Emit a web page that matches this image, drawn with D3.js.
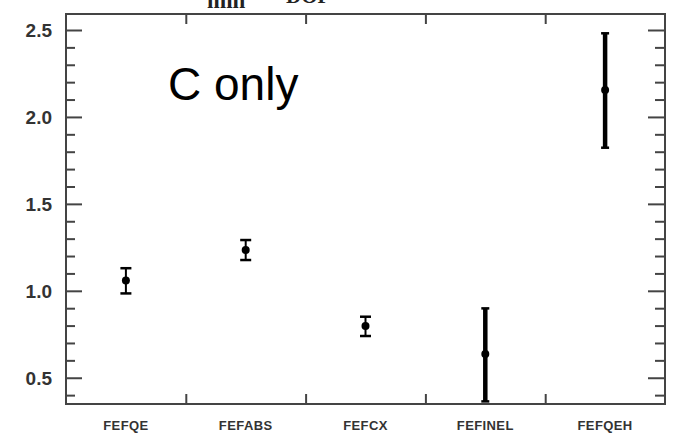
<!DOCTYPE html>
<html>
<head>
<meta charset="utf-8">
<script src="https://cdn.jsdelivr.net/npm/d3@7"></script>
<style>
  body { margin: 0; background: #fff; }
  svg { display: block; }
</style>
</head>
<body>
<svg id="chart"></svg>
<script>
// categories and values
const categories = ['FEFQE', 'FEFABS', 'FEFCX', 'FEFINEL', 'FEFQEH']
const centers = [1.06, 1.235, 0.797, 0.636, 2.155]
const uppers = [1.13, 1.292, 0.851, 0.899, 2.481]
const lowers = [0.985, 1.177, 0.74, 0.364, 1.823]
const majorTicks = [0.5, 1.0, 1.5, 2.0, 2.5]
const minorTicks = [0.4, 0.6, 0.7, 0.8, 0.9, 1.1, 1.2, 1.3, 1.4, 1.6, 1.7, 1.8, 1.9, 2.1, 2.2, 2.3, 2.4]

const WIDTH = 679
const HEIGHT = 445
// plot frame
const LEFT = 66
const RIGHT = 665
const TOP = 14
const BOTTOM = 404
const AXIS_COLOR = '#444'

const data = categories.map((c, i) => ({ name: c, v: centers[i], hi: uppers[i], lo: lowers[i] }))

const x = d3.scaleBand().domain(categories).range([LEFT, RIGHT])
const y = d3.scaleLinear().domain([0.349, 2.592]).range([BOTTOM, TOP])

const svg = d3.select('#chart').attr('width', WIDTH).attr('height', HEIGHT)

// cut-off title at the very top
const drawTitle = () => (node) => {
  node.append('text')
    .attr('x', 207).attr('y', 8)
    .style('font-family', '"Liberation Serif", "DejaVu Serif", serif')
    .style('font-weight', 'bold')
    .style('font-size', '23px')
    .style('fill', '#222')
    .text('min')
  node.append('text')
    .attr('x', 286).attr('y', 3)
    .style('font-family', '"Liberation Serif", "DejaVu Serif", serif')
    .style('font-weight', 'bold')
    .style('font-size', '21px')
    .style('fill', '#222')
    .text('DOF')
}

const drawFrame = () => (node) => {
  node.append('rect')
    .attr('x', LEFT).attr('y', TOP)
    .attr('width', RIGHT - LEFT).attr('height', BOTTOM - TOP)
    .attr('fill', 'none')
    .attr('stroke', AXIS_COLOR)
    .attr('stroke-width', 2)
}

const drawYAxes = () => (node) => {
  // left: ticks point inward
  const left = d3.axisRight(y).tickValues(majorTicks).tickSize(16).tickFormat('')
  const leftMinor = d3.axisRight(y).tickValues(minorTicks).tickSize(9).tickFormat('')
  const right = d3.axisLeft(y).tickValues(majorTicks).tickSize(17).tickFormat('')
  const rightMinor = d3.axisLeft(y).tickValues(minorTicks).tickSize(10).tickFormat('')

  const style = (g) => {
    g.select('.domain').remove()
    g.selectAll('.tick line').attr('stroke', AXIS_COLOR).attr('stroke-width', 2)
  }
  node.append('g').attr('transform', `translate(${LEFT},0)`).call(left).call(style)
  node.append('g').attr('transform', `translate(${LEFT},0)`).call(leftMinor).call(style)
  node.append('g').attr('transform', `translate(${RIGHT},0)`).call(right).call(style)
  node.append('g').attr('transform', `translate(${RIGHT},0)`).call(rightMinor).call(style)

  // tick labels
  node.append('g')
    .selectAll('text')
    .data(majorTicks)
    .join('text')
    .attr('x', 52)
    .attr('y', (d) => y(d))
    .attr('dy', '0.36em')
    .attr('text-anchor', 'end')
    .style('font-family', '"Liberation Sans", Arial, sans-serif')
    .style('font-weight', 'bold')
    .style('font-size', '19px')
    .style('fill', '#333')
    .text((d) => d.toFixed(1))
}

const drawXAxes = () => (node) => {
  // tick marks sit on the boundaries between categories
  const bounds = categories.slice(1).map((c) => x(c))
  const xb = d3.scaleLinear().domain([LEFT, RIGHT]).range([LEFT, RIGHT])
  const bottom = d3.axisTop(xb).tickValues(bounds).tickSize(10).tickFormat('')
  const top = d3.axisBottom(xb).tickValues(bounds).tickSize(10).tickFormat('')
  const style = (g) => {
    g.select('.domain').remove()
    g.selectAll('.tick line').attr('stroke', AXIS_COLOR).attr('stroke-width', 2)
  }
  node.append('g').attr('transform', `translate(0,${BOTTOM})`).call(bottom).call(style)
  node.append('g').attr('transform', `translate(0,${TOP})`).call(top).call(style)

  node.append('g')
    .selectAll('text')
    .data(categories)
    .join('text')
    .attr('x', (d) => x(d) + x.bandwidth() / 2)
    .attr('y', 430)
    .attr('text-anchor', 'middle')
    .style('font-family', '"Liberation Sans", Arial, sans-serif')
    .style('font-weight', 'bold')
    .style('font-size', '13px')
    .style('letter-spacing', '0.4px')
    .style('fill', '#333')
    .text((d) => d)
}

const drawErrorBars = () => (node) => {
  // wide uncertainties are drawn with a heavier pen
  const heavy = (d) => d.hi - d.lo > 0.4
  const cx = (d) => x(d.name) + x.bandwidth() / 2

  const g = node.append('g')
    .selectAll('g')
    .data(data)
    .join('g')

  g.append('line')
    .attr('x1', cx).attr('x2', cx)
    .attr('y1', (d) => y(d.hi)).attr('y2', (d) => y(d.lo))
    .attr('stroke', '#000')
    .attr('stroke-width', (d) => heavy(d) ? 4.5 : 2)

  g.selectAll('.cap')
    .data((d) => [{ d, v: d.hi }, { d, v: d.lo }])
    .join('line')
    .attr('class', 'cap')
    .attr('x1', (c) => cx(c.d) - (heavy(c.d) ? 4 : 5.5))
    .attr('x2', (c) => cx(c.d) + (heavy(c.d) ? 4 : 5.5))
    .attr('y1', (c) => y(c.v)).attr('y2', (c) => y(c.v))
    .attr('stroke', '#000')
    .attr('stroke-width', 2.5)

  g.append('circle')
    .attr('cx', cx)
    .attr('cy', (d) => y(d.v))
    .attr('r', 4)
    .attr('fill', '#000')
}

svg.call(drawTitle())
  .call(drawErrorBars())
  .call(drawFrame())
  .call(drawYAxes())
  .call(drawXAxes())

svg.append('text')
  .attr('x', 168)
  .attr('y', 100)
  .style('font-family', '"Liberation Sans", Arial, sans-serif')
  .style('font-size', '46px')
  .style('fill', '#000')
  .text('C only')
</script>
</body>
</html>
